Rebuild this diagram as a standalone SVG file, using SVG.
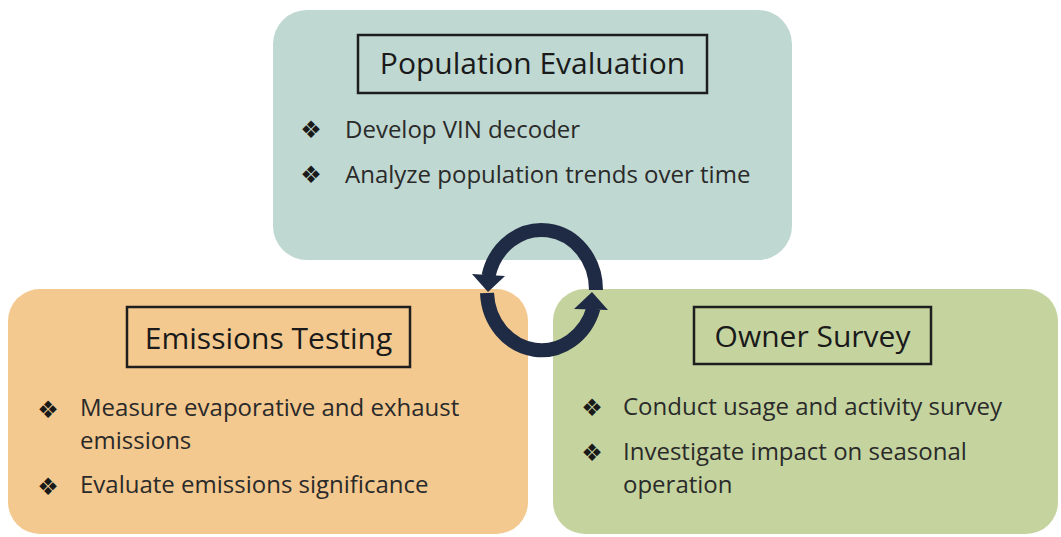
<svg xmlns="http://www.w3.org/2000/svg" width="1061" height="537" viewBox="0 0 1061 537">
  <style>
    .title { font-family: "Open Sans", "Liberation Sans", sans-serif; font-size: 30px; fill: #1a1a1a; text-anchor: middle; }
    .body { font-family: "Open Sans", "Liberation Sans", sans-serif; font-size: 24px; fill: #2a2a2a; }
    .bullet { font-family: "DejaVu Sans", sans-serif; font-size: 24px; fill: #1a1a1a; text-anchor: middle; }
    .tbox { fill: none; stroke: #1e1e1e; stroke-width: 2.5; }
    .arc { fill: none; stroke: #1f2b44; stroke-width: 14; }
    .head { fill: #1f2b44; }
  </style>
  <rect width="1061" height="537" fill="#ffffff"/>

  <g id="population-evaluation">
    <rect x="273" y="10" width="519" height="250" rx="34" fill="#bfd8d1"/>
    <rect class="tbox" x="358" y="35" width="349" height="58"/>
    <text class="title" x="532.5" y="74">Population Evaluation</text>
    <text class="bullet" x="311" y="138">❖</text>
    <text class="body" x="345" y="138">Develop VIN decoder</text>
    <text class="bullet" x="311" y="183">❖</text>
    <text class="body" x="345" y="183">Analyze population trends over time</text>
  </g>

  <g id="emissions-testing">
    <rect x="8" y="289" width="520" height="245" rx="32" fill="#f3c98f"/>
    <rect class="tbox" x="127" y="307" width="283" height="60"/>
    <text class="title" x="268.5" y="349">Emissions Testing</text>
    <text class="bullet" x="48" y="418">❖</text>
    <text class="body" x="80" y="416">Measure evaporative and exhaust</text>
    <text class="body" x="80" y="449">emissions</text>
    <text class="bullet" x="48" y="495">❖</text>
    <text class="body" x="80" y="493">Evaluate emissions significance</text>
  </g>

  <g id="owner-survey">
    <rect x="553" y="289" width="505" height="245" rx="32" fill="#c5d49f"/>
    <rect class="tbox" x="694" y="307" width="237" height="57"/>
    <text class="title" x="812.5" y="347">Owner Survey</text>
    <text class="bullet" x="592" y="416">❖</text>
    <text class="body" x="623" y="415">Conduct usage and activity survey</text>
    <text class="bullet" x="592" y="461">❖</text>
    <text class="body" x="623" y="460">Investigate impact on seasonal</text>
    <text class="body" x="623" y="493">operation</text>
  </g>

  <g id="connectors">
    <path class="arc" d="M 596 290 A 54.5 60 0 0 0 488.5 276"/>
    <polygon class="head" points="472,274 505,276 488,292"/>
    <path class="arc" d="M 487 293 A 54.5 60 0 0 0 593.5 308"/>
    <polygon class="head" points="574,309 608,310 592,292"/>
  </g>
</svg>
